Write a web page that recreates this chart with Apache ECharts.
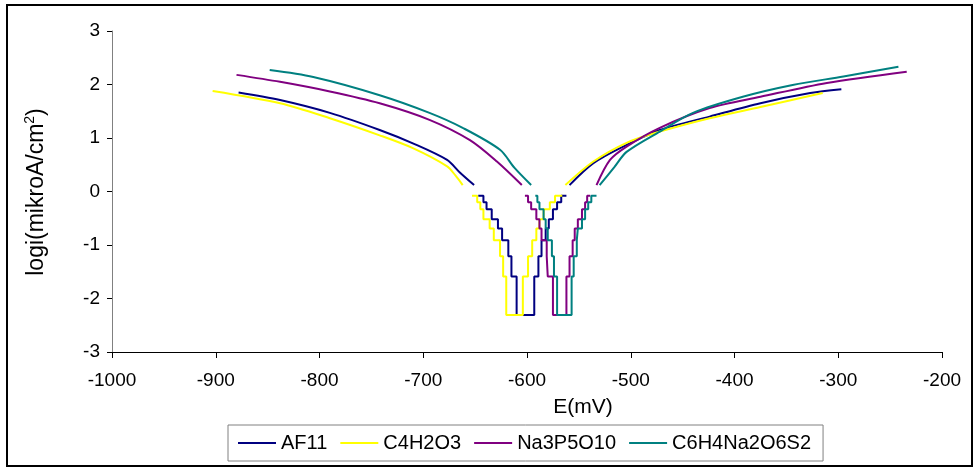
<!DOCTYPE html>
<html>
<head>
<meta charset="utf-8">
<script src="https://cdn.jsdelivr.net/npm/echarts@6/dist/echarts.min.js"></script>
<style>
html,body{margin:0;padding:0;background:#fff;}
#chart{width:974px;height:468px;}
</style>
</head>
<body>
<div id="chart"></div>
<script>
// ---- Data (E in mV, log i in log(µA/cm²)) ----
const seriesNames = ['AF11', 'C4H2O3', 'Na3P5O10', 'C6H4Na2O6S2'];

const xTicks = [-1000, -900, -800, -700, -600, -500, -400, -300, -200];
const yTicks = [-3, -2, -1, 0, 1, 2, 3];

// cathodic (left) branches
const af11Cathodic = [[-878,1.85],[-838,1.71],[-790,1.47],[-742,1.15],[-710,0.90],[-677,0.59],[-665,0.36],[-651,0.12]];
const c4Cathodic   = [[-903,1.88],[-838,1.65],[-790,1.37],[-742,1.05],[-710,0.81],[-677,0.47],[-669,0.30],[-662,0.12]];
const naCathodic   = [[-880,2.18],[-838,2.05],[-790,1.87],[-742,1.65],[-694,1.34],[-655,0.96],[-629,0.56],[-605,0.12]];
const c6Cathodic   = [[-848,2.27],[-806,2.14],[-742,1.80],[-694,1.47],[-662,1.19],[-626,0.78],[-612,0.44],[-596,0.12]];

// staircase region near the corrosion potential
const af11Middle = [[-647,-0.08],[-642,-0.2],[-639,-0.33],[-634,-0.52],[-628,-0.69],[-624,-0.91],[-618,-1.21],[-615,-1.59],[-610,-2.31],[-593,-1.59],[-589,-1.21],[-586,-0.91],[-582,-0.69],[-579,-0.52],[-575,-0.33],[-571,-0.2],[-567,-0.08],[-562,-0.08]];
const c4Middle   = [[-653,-0.08],[-648,-0.2],[-645,-0.33],[-642,-0.52],[-636,-0.69],[-632,-0.91],[-626,-1.21],[-623,-1.59],[-620,-2.31],[-604,-1.59],[-599,-1.21],[-595,-0.91],[-591,-0.69],[-588,-0.52],[-584,-0.33],[-578,-0.2],[-573,-0.08],[-566,-0.08]];
const naMiddle   = [[-602,-0.08],[-599,-0.2],[-596,-0.33],[-591,-0.52],[-588,-0.69],[-586,-0.91],[-581,-1.21],[-580,-1.59],[-575,-2.31],[-562,-1.59],[-559,-1.21],[-556,-0.91],[-554,-0.69],[-551,-0.52],[-547,-0.33],[-544,-0.2],[-542,-0.08],[-539,-0.08]];
const c6Middle   = [[-592,-0.08],[-590,-0.2],[-588,-0.33],[-584,-0.52],[-582,-0.69],[-580,-0.91],[-576,-1.21],[-574,-1.59],[-571,-2.31],[-557,-1.59],[-555,-1.21],[-552,-0.91],[-551,-0.69],[-547,-0.52],[-544,-0.33],[-541,-0.2],[-538,-0.08],[-533,-0.08]];

// anodic (right) branches
const af11Anodic = [[-559,0.12],[-536,0.53],[-504,0.87],[-472,1.15],[-424,1.40],[-375,1.65],[-327,1.84],[-297,1.91]];
const c4Anodic   = [[-563,0.12],[-536,0.56],[-504,0.91],[-472,1.12],[-424,1.37],[-375,1.58],[-315,1.84]];
const naAnodic   = [[-533,0.12],[-520,0.59],[-504,0.84],[-472,1.19],[-424,1.56],[-375,1.77],[-311,2.03],[-234,2.24]];
const c6Anodic   = [[-530,0.12],[-516,0.45],[-504,0.74],[-472,1.12],[-440,1.47],[-392,1.77],[-344,1.99],[-295,2.15],[-242,2.33]];

const seriesColors = ['#000080', '#FFFF00', '#800080', '#008080'];

const groups = [
  [af11Cathodic, af11Middle, af11Anodic],
  [c4Cathodic, c4Middle, c4Anodic],
  [naCathodic, naMiddle, naAnodic],
  [c6Cathodic, c6Middle, c6Anodic]
];

const FONT = '"Liberation Sans", Arial, sans-serif';

const series = [];
groups.forEach(function (g, i) {
  const base = {
    type: 'line',
    name: seriesNames[i],
    showSymbol: false,
    symbol: 'none',
    lineStyle: { color: seriesColors[i], width: 2 },
    itemStyle: { color: seriesColors[i] },
    animation: false,
    z: 2 + i
  };
  series.push(Object.assign({}, base, { data: g[0], smooth: 0.3 }));
  series.push(Object.assign({}, base, { data: g[1], step: 'end' }));
  series.push(Object.assign({}, base, { data: g[2], smooth: 0.3 }));
});

const chart = echarts.init(document.getElementById('chart'), null, { renderer: 'canvas' });
chart.setOption({
  backgroundColor: '#ffffff',
  animation: false,
  grid: { left: 112, right: 32, top: 31, bottom: 116, containLabel: false },
  xAxis: {
    type: 'value',
    min: xTicks[0],
    max: xTicks[xTicks.length - 1],
    interval: 100,
    axisLine: { onZero: false, lineStyle: { color: '#000000', width: 1 } },
    axisTick: { show: true, length: 6, lineStyle: { color: '#000000' } },
    axisLabel: { fontSize: 19, color: '#000000', fontFamily: FONT, margin: 19,
      formatter: function (v) { return String(v); } },
    splitLine: { show: false }
  },
  yAxis: {
    type: 'value',
    min: yTicks[0],
    max: yTicks[yTicks.length - 1],
    interval: 1,
    axisLine: { show: true, onZero: false, lineStyle: { color: '#808080', width: 1 } },
    axisTick: { show: true, length: 5, lineStyle: { color: '#000000' } },
    axisLabel: { fontSize: 19, color: '#000000', fontFamily: FONT, margin: 12,
      formatter: function (v) { return String(v); } },
    splitLine: { show: false }
  },
  legend: {
    data: seriesNames,
    left: 228,
    top: 425,
    padding: [8, 12, 8, 10],
    itemGap: 13,
    itemWidth: 38,
    itemHeight: 2,
    icon: 'rect',
    borderColor: '#808080',
    borderWidth: 1,
    textStyle: { fontSize: 20, color: '#000000', fontFamily: FONT }
  },
  graphic: [
    {
      type: 'rect',
      shape: { x: 7, y: 5, width: 965, height: 461 },
      style: { fill: null, stroke: '#000000', lineWidth: 2 },
      silent: true,
      z: 100
    },
    {
      type: 'text',
      x: 583,
      y: 407,
      style: {
        text: 'E(mV)',
        fontSize: 21,
        fontFamily: FONT,
        fill: '#000000',
        align: 'center',
        verticalAlign: 'middle'
      }
    },
    {
      type: 'text',
      x: 37,
      y: 192,
      rotation: Math.PI / 2,
      style: {
        text: '{n|logi(mikroA/cm}{s|2}{n|)}',
        align: 'center',
        verticalAlign: 'middle',
        fill: '#000000',
        rich: {
          n: { fontSize: 23, fontFamily: FONT, fill: '#000000', lineHeight: 28 },
          s: { fontSize: 14, fontFamily: FONT, fill: '#000000', lineHeight: 28, verticalAlign: 'top' }
        }
      }
    }
  ],
  series: series
});
</script>
</body>
</html>
